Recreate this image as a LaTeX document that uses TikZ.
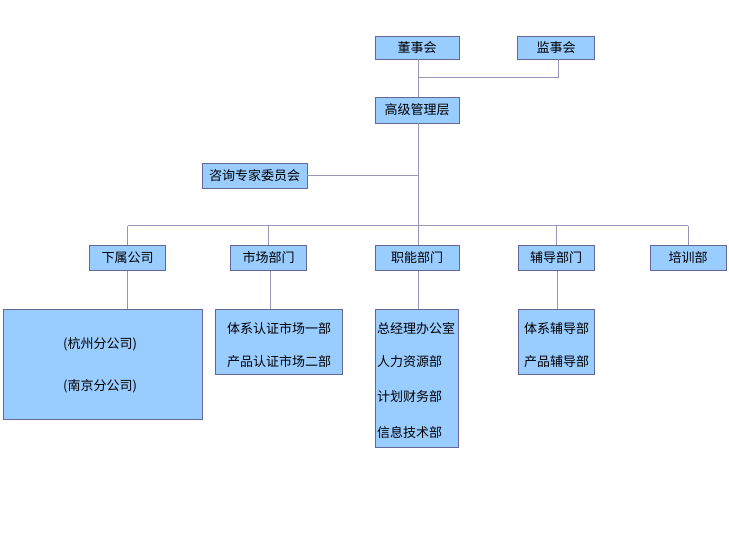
\documentclass[tikz,border=0pt]{standalone}
\usepackage{fontspec}
\newfontfamily\cjk{Noto Sans CJK SC}
\definecolor{boxfill}{HTML}{99CCFF}
\definecolor{boxline}{RGB}{102,102,153}
\definecolor{conn}{RGB}{150,150,185}
\tikzset{
  orgbox/.style={draw=boxline, fill=boxfill, line width=0.9bp, inner sep=0pt, font=\cjk\fontsize{13bp}{15bp}\selectfont},
  txt/.style={inner sep=0pt, font=\cjk\fontsize{13bp}{15bp}\selectfont},
  link/.style={draw=conn, line width=1bp}
}
\begin{document}
\begin{tikzpicture}[x=1bp,y=-1bp]
\useasboundingbox (0,0) rectangle (729,534);
\fill[white] (0,0) rectangle (729,534);
% top
\node[orgbox, minimum width=84bp, minimum height=23bp] (dsh) at (417,47.5) {董事会};
\node[orgbox, minimum width=77bp, minimum height=23bp] (jsh) at (556,47.5) {监事会};
\node[orgbox, minimum width=84bp, minimum height=26bp] (gj) at (417,110) {高级管理层};
\node[orgbox, minimum width=105bp, minimum height=25bp] (zx) at (254.5,175.5) {咨询专家委员会};
% level 2
\node[orgbox, minimum width=76bp, minimum height=25bp] (xs) at (127.5,258) {下属公司};
\node[orgbox, minimum width=76bp, minimum height=25bp] (sc) at (268.5,258) {市场部门};
\node[orgbox, minimum width=84bp, minimum height=25bp] (zn) at (417,258) {职能部门};
\node[orgbox, minimum width=76bp, minimum height=25bp] (fd) at (556,258) {辅导部门};
\node[orgbox, minimum width=76bp, minimum height=25bp] (px) at (688,258) {培训部};
% level 3
\node[orgbox, minimum width=199bp, minimum height=110bp] (xsb) at (102.5,364) {};
\node[txt] (hz) at (100,344) {(杭州分公司)};
\node[txt] (nj) at (100,386) {(南京分公司)};
\node[orgbox, minimum width=127bp, minimum height=65bp] (scb) at (279,341.5) {};
\node[txt] (sc1) at (279,329) {体系认证市场一部};
\node[txt] (sc2) at (279,362) {产品认证市场二部};
\node[orgbox, minimum width=83bp, minimum height=138bp] (znb) at (417,378) {};
\node[txt, anchor=west] (zn1) at (377,329) {总经理办公室};
\node[txt, anchor=west] (zn2) at (377,362) {人力资源部};
\node[txt, anchor=west] (zn3) at (377,397) {计划财务部};
\node[txt, anchor=west] (zn4) at (377,433) {信息技术部};
\node[orgbox, minimum width=76bp, minimum height=65bp] (fdb) at (556,341.5) {};
\node[txt] (fd1) at (556.5,329) {体系辅导部};
\node[txt] (fd2) at (556.5,362) {产品辅导部};
% connectors
\coordinate (tj) at (418,77.5);
\coordinate (busy) at (0,226);
\draw[link] (dsh.south -| tj) -- (gj.north -| tj);
\draw[link] (jsh.south -| 558,0) -- (558,77.5) -- (tj);
\draw[link] (gj.south -| tj) -- (zn.north -| tj);
\draw[link] (zx.east) -- (zx.east -| tj);
\draw[link] (xs.north |- busy) -- (px.north |- busy);
\foreach \n in {xs,sc,fd,px}{\draw[link] (\n.north |- busy) -- (\n.north);}
\draw[link] (xs.south) -- (xs.south |- xsb.north);
\draw[link] (sc.south -| 270,0) -- (scb.north -| 270,0);
\draw[link] (zn.south -| tj) -- (znb.north -| tj);
\draw[link] (fd.south -| 557.5,0) -- (fdb.north -| 557.5,0);
\end{tikzpicture}
\end{document}
